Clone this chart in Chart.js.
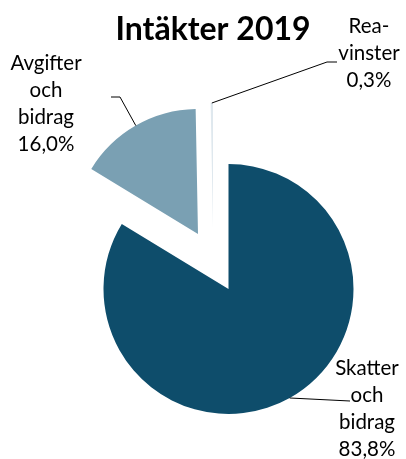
<!DOCTYPE html>
<html>
<head>
<meta charset="utf-8">
<script src="https://cdn.jsdelivr.net/npm/chart.js@4/dist/chart.umd.min.js"></script>
<style>
  body { margin: 0; background: #fff; }
  canvas { display: block; }
</style>
</head>
<body>
<canvas id="incomeChart" width="406" height="459"></canvas>
<script>
const title = 'Intäkter 2019';
const categories = [['Skatter', 'och', 'bidrag'], ['Avgifter', 'och', 'bidrag'], ['Rea-', 'vinster']];
const shares = [83.8, 16.0, 0.3];
const colors = ['#0e4d6b', '#7aa0b3', '#dfe8ee'];

// how far each slice is pulled out of the pie (px)
const explode = [[0, 0], [-30.5, -55], [-15.5, -61]];
// label anchors: centre x, baseline of first line
const labelPos = [{ x: 367, y: 375 }, { x: 46, y: 70 }, { x: 369, y: 33 }];
// leader line bends, drawn from the slice edge outwards
const leaders = [[[350, 401]], [[120, 97], [111, 97]], [[327, 62], [337, 62]]];

const fmt = v => v.toFixed(1).replace('.', ',') + '%';

const explodePlugin = {
  id: 'explode',
  afterDatasetsUpdate(chart) {
    chart.getDatasetMeta(0).data.forEach((arc, i) => {
      arc.x += explode[i][0];
      arc.y += explode[i][1];
    });
  }
};

const labelPlugin = {
  id: 'labels',
  afterDraw(chart) {
    const c = chart.ctx;
    c.save();
    c.fillStyle = '#000';
    c.textAlign = 'center';
    c.textBaseline = 'alphabetic';
    c.font = 'bold 32px Lato';
    c.fillText(title, 213, 40);

    // leader lines
    c.strokeStyle = '#000';
    c.lineWidth = 1;
    chart.getDatasetMeta(0).data.forEach((arc, i) => {
      const mid = (arc.startAngle + arc.endAngle) / 2;
      c.beginPath();
      c.moveTo(arc.x + Math.cos(mid) * arc.outerRadius, arc.y + Math.sin(mid) * arc.outerRadius);
      leaders[i].forEach(p => c.lineTo(p[0], p[1]));
      c.stroke();
    });

    c.font = '20.5px Lato';
    categories.forEach((lines, i) => {
      const all = lines.concat([fmt(shares[i])]);
      all.forEach((t, k) => c.fillText(t, labelPos[i].x, labelPos[i].y + k * 27));
    });
    c.restore();
  }
};

new Chart(document.getElementById('incomeChart'), {
  type: 'pie',
  data: {
    labels: categories.map(l => l.join(' ')),
    datasets: [{
      data: shares,
      backgroundColor: colors,
      borderWidth: 0
    }]
  },
  options: {
    responsive: false,
    animation: false,
    radius: 125,
    layout: { padding: { left: 51, right: 0, top: 119, bottom: 0 } },
    plugins: {
      legend: { display: false },
      tooltip: { enabled: false },
      title: { display: false }
    }
  },
  plugins: [explodePlugin, labelPlugin]
});
</script>
</body>
</html>
